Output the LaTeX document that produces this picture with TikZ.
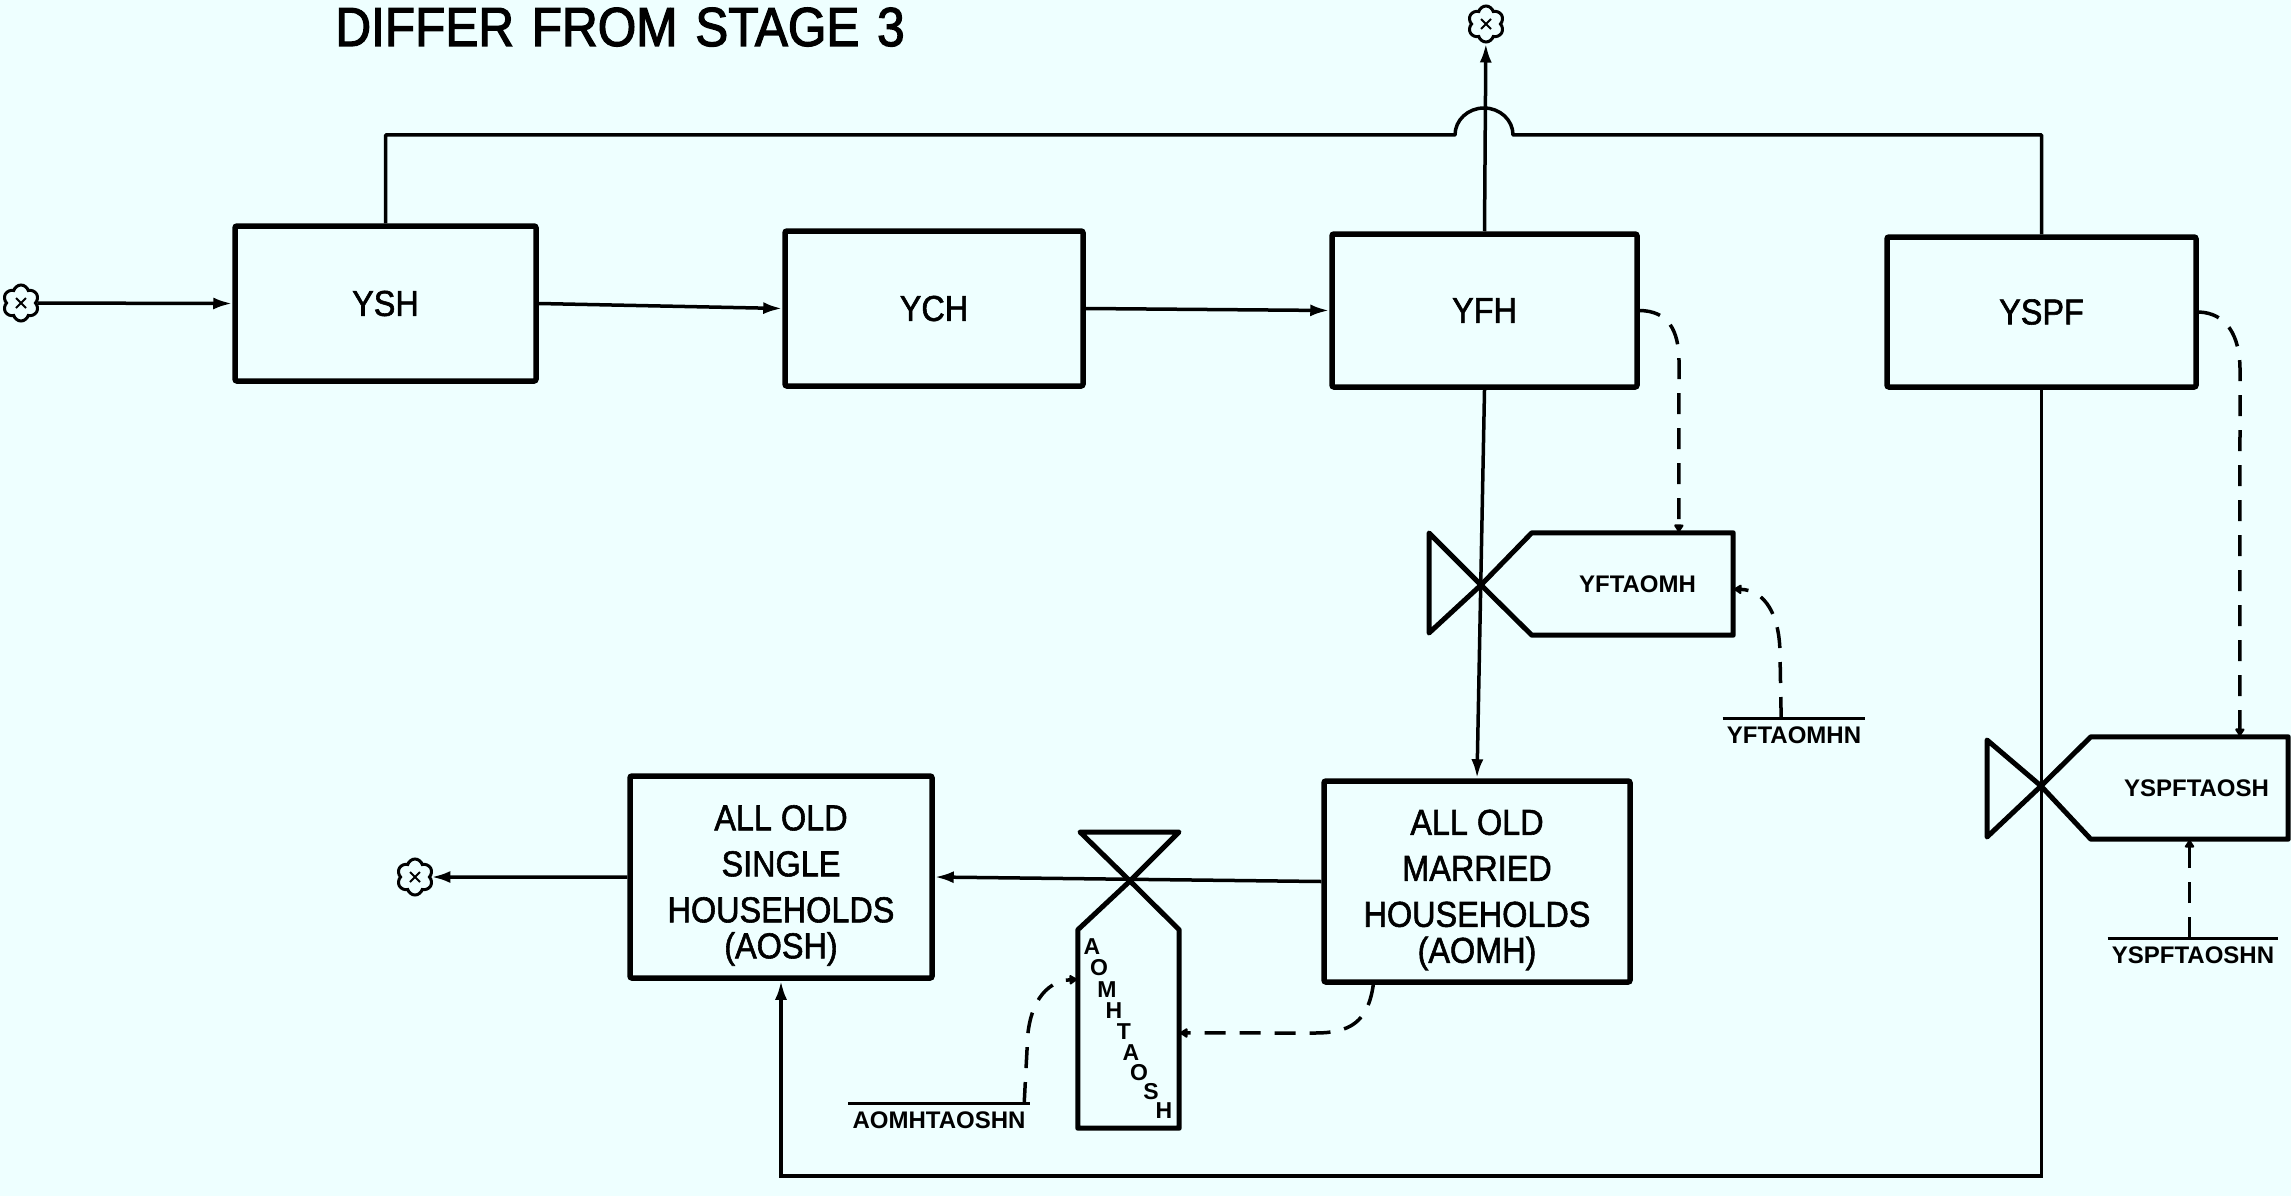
\documentclass[tikz,border=0pt]{standalone}
\usepackage{fontspec}
\setmainfont{Liberation Sans}
\newfontfamily\cfont[FakeStretch=0.9,FakeBold=1.6]{Liberation Sans}
\newfontfamily\tfont[FakeStretch=0.9,FakeBold=2.2]{Liberation Sans}
\newfontfamily\sfnt{Liberation Sans}
\usetikzlibrary{arrows.meta,shapes.symbols,calc}
\definecolor{bgc}{RGB}{238,255,255}
\begin{document}
\begin{tikzpicture}[x=1pt,y=-1pt,
  box/.style={draw, line width=5.5pt, rounded corners=2pt, inner sep=0pt, align=center,
              font=\cfont\fontsize{36}{46}\selectfont},
  tagnode/.style={inner sep=0pt, font=\sfnt\bfseries\fontsize{24}{28}\selectfont},
  nlab/.style={inner xsep=4pt, inner ysep=9pt, anchor=north, font=\sfnt\bfseries\fontsize{24}{28}\selectfont},
  conn/.style={line width=3.5pt},
  arr/.style={-{Latex[length=19pt,width=12pt]}},
  dsh/.style={line width=3.5pt, dash pattern=on 21pt off 14pt},
  darr/.style={-{Latex[length=10pt,width=12pt,round]}},
  valve/.style={line width=5pt, line join=round},
  barline/.style={line width=3pt},
  vlet/.style={inner sep=0pt, font=\sfnt\bfseries\fontsize{23}{25}\selectfont},
  src/.style={cloud, cloud puffs=6, draw, line width=3pt, minimum width=36pt,
              minimum height=36pt, inner sep=0pt, aspect=1,
              path picture={\draw[line width=2pt]
                ([shift={(-5pt,-5pt)}]path picture bounding box.center) -- ([shift={(5pt,5pt)}]path picture bounding box.center)
                ([shift={(-5pt,5pt)}]path picture bounding box.center) -- ([shift={(5pt,-5pt)}]path picture bounding box.center);}}
]
\fill[bgc] (0,0) rectangle (2291,1196);
\useasboundingbox (0,0) rectangle (2291,1196);

% title
\node[font=\tfont\fontsize{55}{60}\selectfont, anchor=base] (title) at (620,46)
  {DIFFER\hspace{4pt} FROM\hspace{4pt} STAGE\hspace{4pt} 3};

% main boxes
\node[box, minimum width=301pt, minimum height=155pt] (YSH) at (385.5,303.5) {YSH};
\node[box, minimum width=298pt, minimum height=155pt] (YCH) at (934,308.5) {YCH};
\node[box, minimum width=305pt, minimum height=153pt] (YFH) at (1484.5,310.5) {YFH};
\node[box, minimum width=309pt, minimum height=150pt] (YSPF) at (2041.5,312) {YSPF};
\node[box, minimum width=302pt, minimum height=202pt] (AOSH) at (781,877)
  {\rule{0pt}{42pt}ALL OLD\\SINGLE\\HOUSEHOLDS\\[-10pt](AOSH)};
\node[box, minimum width=306pt, minimum height=201pt] (AOMH) at (1477,881.5)
  {\rule{0pt}{42pt}ALL OLD\\MARRIED\\HOUSEHOLDS\\[-10pt](AOMH)};

% sources / sinks
\node[src] (cin) at (21,303) {};
\node[src] (cout) at (415,877) {};
\node[src] (ctop) at (1486,24) {};

% valve tags
\node[tagnode, minimum width=201pt, minimum height=102pt] (vf) at (1632.5,584) {\hspace*{10pt}YFTAOMH};
\node[tagnode, minimum width=197pt, minimum height=102pt] (vs) at (2189.5,788) {\hspace*{14pt}YSPFTAOSH};
\node[inner sep=0pt, minimum width=101pt, minimum height=198pt] (va) at (1128.5,1029) {};
\coordinate (vfx) at (1481,585);
\coordinate (vsx) at (2041,786);
\coordinate (vax) at (1130,881);

% vertical letters of the AOMHTAOSH tag
\foreach \ch/\px/\py [count=\i] in {A/1092/947, O/1099/968, M/1107/990, H/1114/1011,
    T/1124/1032, A/1131/1053, O/1139/1073, S/1151/1092, H/1164/1111}
  \node[vlet] (L\i) at (\px,\py) {\ch};

% N labels
\node[nlab] (nf) at (1794,718) {YFTAOMHN};
\node[nlab] (ns) at (2193,938) {YSPFTAOSHN};
\node[nlab] (na) at (939,1103) {AOMHTAOSHN};
\draw[barline] (nf.north west) -- (nf.north east);
\draw[barline] (ns.north west) -- (ns.north east);
\draw[barline] (na.north west) -- (na.north east);

% valves
\draw[valve] (vf.north west) -- (vf.north east) -- (vf.south east) -- (vf.south west) -- (vfx) -- cycle;
\draw[valve] (vfx) -- ($(vfx)+(-52,-52)$) -- ($(vfx)+(-52,48)$) -- cycle;
\draw[valve] (vs.north west) -- (vs.north east) -- (vs.south east) -- (vs.south west) -- (vsx) -- cycle;
\draw[valve] (vsx) -- ($(vsx)+(-54,-46)$) -- ($(vsx)+(-54,51)$) -- cycle;
\draw[valve] (va.north west) -- (va.south west) -- (va.south east) -- (va.north east) -- (vax) -- cycle;
\draw[valve] (vax) -- ($(vax)+(-50,-49)$) -- ($(vax)+(49,-49)$) -- cycle;

% solid flows
\coordinate (bumpL) at (1455,135);
\coordinate (cbot) at (1400,1176);
\draw[conn,arr] (cin) -- (YSH.west);
\draw[conn,arr] (YSH.east) -- (YCH.west);
\draw[conn,arr] (YCH.east) -- (YFH.west);
\draw[conn,arr] (YFH.north) -- (ctop);
\draw[conn, line join=round] (YSH.north) -- (YSH.north |- bumpL) -- (bumpL)
   arc[start angle=180, end angle=0, x radius=29pt, y radius=27pt]
   -- (YSPF.north |- bumpL) -- (YSPF.north);
\draw[conn,arr] (YFH.south) -- (AOMH.north);
\draw[conn,arr] (AOMH.west) -- (AOSH.east);
\draw[conn,arr] (AOSH.west) -- (cout);
\draw[conn,arr] (YSPF.south) -- (YSPF.south |- cbot) -- (AOSH.south |- cbot) -- (AOSH.south);

% dashed information links
\coordinate (d1) at (1679,362);
\coordinate (d2) at (2240,370);
\coordinate (d3) at (1780,655);
\coordinate (d5) at (1315,1033);
\coordinate (d6) at (1027,1050);
\draw[dsh,darr] (YFH.east) .. controls (1668,311) and (1679,330) .. (d1)
   -- ($(vf.north west)!0.73!(vf.north east)$);
\draw[dsh,darr] (YSPF.east) .. controls (2226,313) and (2240,335) .. (d2)
   -- ($(vs.north west)!0.755!(vs.north east)$);
\draw[dsh,darr] ($(nf.north west)!0.41!(nf.north east)$) -- (d3)
   .. controls (1780,615) and (1765,590) .. ($(vf.north east)!0.55!(vf.south east)$);
\draw[dsh,darr] (ns.north -| vs.south) -- (vs.south);
\draw[dsh,darr] ($(AOMH.south west)!0.167!(AOMH.south east)$) .. controls (1368,1022) and (1350,1033) .. (d5)
   -- ($(va.north east)!0.52!(va.south east)$);
\draw[dsh,darr] ($(na.north west)!0.97!(na.north east)$) -- (d6)
   .. controls (1027,1005) and (1045,981) .. ($(va.north west)!0.25!(va.south west)$);
\end{tikzpicture}
\end{document}
